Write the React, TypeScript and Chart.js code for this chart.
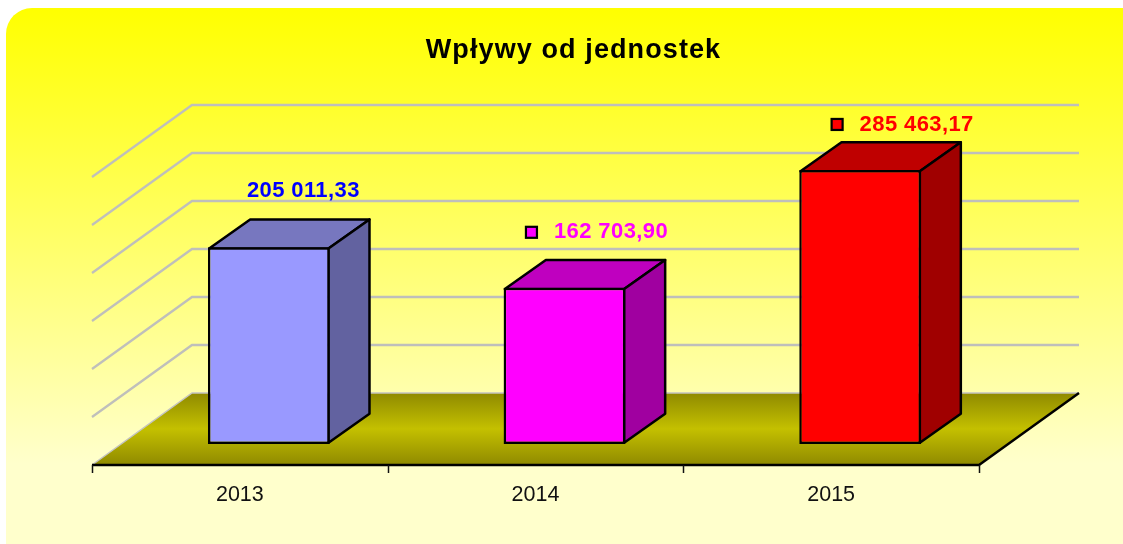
import React, { useEffect, useRef } from "react";
import { Chart, registerables } from "chart.js";

Chart.register(...registerables);

const categories = ["2013", "2014", "2015"];
const values = [205011.33, 162703.9, 285463.17];
const valueLabels = ["205 011,33", "162 703,90", "285 463,17"];
const frontColors = ["#9999FF", "#FF00FF", "#FF0000"];
const topColors = ["#7777BF", "#BF00BF", "#BF0000"];
const sideColors = ["#6262A0", "#A000A0", "#A00000"];
const labelColors = ["#0000FF", "#FF00FF", "#FF0000"];
const showKey = [false, true, true];
const yMax = 300000;
const yStep = 50000;

// Projection of the 3D look, in pixels
const BAR_DEPTH = { x: 41, y: -29 };
const WALL = { x: 71, y: -51 };
const FRONT = { x: -29, y: 21 };
const EDGE = 2.5;
// Label placement relative to the bar's top centre
const LABEL_OFFSET = [
  { x: 34.5, y: -56.5 },
  { x: 46.5, y: -55.5 },
  { x: 56.5, y: -45.5 },
];
const KEY_GAP = 22.5;
const KEY_SIZE = 11;

const poly = (ctx: CanvasRenderingContext2D, pts: number[][], fill: string | CanvasGradient | null, stroke: string | null, lw = EDGE) => {
  ctx.beginPath();
  pts.forEach(([x, y], i) => (i ? ctx.lineTo(x, y) : ctx.moveTo(x, y)));
  ctx.closePath();
  if (fill) {
    ctx.fillStyle = fill;
    ctx.fill();
  }
  if (stroke) {
    ctx.strokeStyle = stroke;
    ctx.lineWidth = lw;
    ctx.lineJoin = "round";
    ctx.stroke();
  }
};

const threeD = {
  id: "threeD",
  afterLayout(chart: any) {
    // title is centred slightly right of the canvas middle, and letter-spaced
    const tb = chart.titleBlock;
    tb.left += 18;
    if (!tb._spaced) {
      tb._spaced = true;
      const draw = tb.draw;
      tb.draw = function () {
        const c = chart.ctx as any;
        c.save();
        c.letterSpacing = "1.1px";
        draw.call(tb);
        c.restore();
      };
    }
  },
  beforeDatasetsDraw(chart: any) {
    const ctx: CanvasRenderingContext2D = chart.ctx;
    const xs = chart.scales.x;
    const ys = chart.scales.y;
    const left = xs.left;
    const right = xs.right;
    const base = ys.getPixelForValue(0);
    ctx.save();

    // walls' gridlines
    ctx.lineCap = "butt";
    for (let v = yStep; v <= yMax; v += yStep) {
      const y = ys.getPixelForValue(v);
      ctx.beginPath();
      ctx.moveTo(left + FRONT.x, y + FRONT.y);
      ctx.lineTo(left + WALL.x, y + WALL.y);
      ctx.lineTo(right + WALL.x, y + WALL.y);
      ctx.strokeStyle = "#BFBFBB";
      ctx.lineWidth = 2.3;
      ctx.stroke();
    }

    // floor
    const fTop = base + WALL.y;
    const fBot = base + FRONT.y;
    const g = ctx.createLinearGradient(0, fTop, 0, fBot);
    g.addColorStop(0, "#8F8A00");
    g.addColorStop(0.5, "#C4C000");
    g.addColorStop(1, "#8F8A00");
    poly(
      ctx,
      [
        [left + FRONT.x, fBot],
        [left + WALL.x, fTop],
        [right + WALL.x, fTop],
        [right + FRONT.x, fBot],
      ],
      g,
      null
    );
    ctx.beginPath();
    ctx.moveTo(left + FRONT.x, fBot);
    ctx.lineTo(left + WALL.x, fTop);
    ctx.lineTo(right + WALL.x, fTop);
    ctx.strokeStyle = "#C4C4C0";
    ctx.lineWidth = 1.5;
    ctx.stroke();
    ctx.beginPath();
    ctx.moveTo(left + FRONT.x, fBot);
    ctx.lineTo(right + FRONT.x, fBot);
    ctx.lineTo(right + WALL.x, fTop);
    ctx.strokeStyle = "#000";
    ctx.lineWidth = EDGE;
    ctx.stroke();

    // category tick marks on the front edge
    const slot = (right - left) / categories.length;
    ctx.strokeStyle = "#111";
    ctx.lineWidth = 1.5;
    for (let i = 0; i <= categories.length; i++) {
      const x = Math.round(left + FRONT.x + slot * i) + 0.5;
      ctx.beginPath();
      ctx.moveTo(x, fBot);
      ctx.lineTo(x, fBot + 8);
      ctx.stroke();
    }

    // top and side faces of bars
    chart.getDatasetMeta(0).data.forEach((bar: any, i: number) => {
      const inset = EDGE / 2;
      const l = bar.x - bar.width / 2 + inset;
      const r = bar.x + bar.width / 2 - inset;
      const t = bar.y + inset;
      const b = bar.base - inset;
      const d = BAR_DEPTH;
      poly(ctx, [[l, t], [l + d.x, t + d.y], [r + d.x, t + d.y], [r, t]], topColors[i], "#000");
      poly(ctx, [[r, t], [r + d.x, t + d.y], [r + d.x, b + d.y], [r, b]], sideColors[i], "#000");
    });
    ctx.restore();
  },
  afterDatasetsDraw(chart: any) {
    const ctx: any = chart.ctx;
    ctx.save();
    ctx.font = 'bold 22px "Liberation Sans", Arial, sans-serif';
    ctx.letterSpacing = "0.4px";
    ctx.textAlign = "center";
    ctx.textBaseline = "middle";
    chart.getDatasetMeta(0).data.forEach((bar: any, i: number) => {
      const cx = bar.x + LABEL_OFFSET[i].x;
      const cy = bar.y + LABEL_OFFSET[i].y;
      ctx.fillStyle = labelColors[i];
      ctx.fillText(valueLabels[i], cx, cy);
      if (showKey[i]) {
        const w = ctx.measureText(valueLabels[i]).width;
        const kx = cx - w / 2 - KEY_GAP;
        ctx.fillStyle = frontColors[i];
        ctx.strokeStyle = "#000";
        ctx.lineWidth = 2.2;
        ctx.fillRect(kx - KEY_SIZE / 2, cy - KEY_SIZE / 2, KEY_SIZE, KEY_SIZE);
        ctx.strokeRect(kx - KEY_SIZE / 2, cy - KEY_SIZE / 2, KEY_SIZE, KEY_SIZE);
      }
    });
    ctx.restore();
  },
};

export default function App() {
  const ref = useRef<HTMLCanvasElement>(null);
  useEffect(() => {
    const chart = new Chart(ref.current!, {
      type: "bar",
      data: {
        labels: categories,
        datasets: [
          {
            label: "Wpływy od jednostek",
            data: values,
            backgroundColor: frontColors,
            borderColor: "#000",
            borderWidth: EDGE,
            borderSkipped: false,
            barPercentage: 0.412,
            categoryPercentage: 1,
          },
        ],
      },
      options: {
        responsive: false,
        animation: false,
        events: [],
        layout: { padding: { left: 121, right: 115, top: 34, bottom: 0 } },
        plugins: {
          legend: { display: false },
          tooltip: { enabled: false },
          title: {
            display: true,
            text: "Wpływy od jednostek",
            color: "#000",
            font: { family: '"Liberation Sans", Arial, sans-serif', size: 27, weight: "bold", lineHeight: 1.2 },
            padding: { top: 0, bottom: 89.6 },
          },
        },
        scales: {
          x: {
            grid: { display: false },
            border: { display: false },
            afterFit: (s: any) => {
              s.height = 100;
            },
            ticks: {
              color: "#111",
              font: { family: '"Liberation Sans", Arial, sans-serif', size: 21.5 },
              padding: 30,
              labelOffset: FRONT.x,
              maxRotation: 0,
            },
          },
          y: {
            display: false,
            min: 0,
            max: yMax,
            ticks: { stepSize: yStep },
          },
        },
      },
      plugins: [threeD],
    } as any);
    return () => chart.destroy();
  }, []);
  return (
    <div style={{ position: "fixed", left: 0, top: 0, width: 1123, height: 544, background: "#fff", overflow: "hidden" }}>
      <div
        style={{
          position: "absolute",
          left: 6,
          top: 8,
          right: 0,
          bottom: 0,
          borderTopLeftRadius: 26,
          background: "linear-gradient(to bottom, #FFFF00 0%, #FFFFCC 85%, #FFFFCC 100%)",
        }}
      />
      <canvas
        ref={ref}
        width={1123}
        height={544}
        style={{ position: "absolute", left: 0, top: 0, display: "block", filter: "blur(0.4px)" }}
      />
    </div>
  );
}
